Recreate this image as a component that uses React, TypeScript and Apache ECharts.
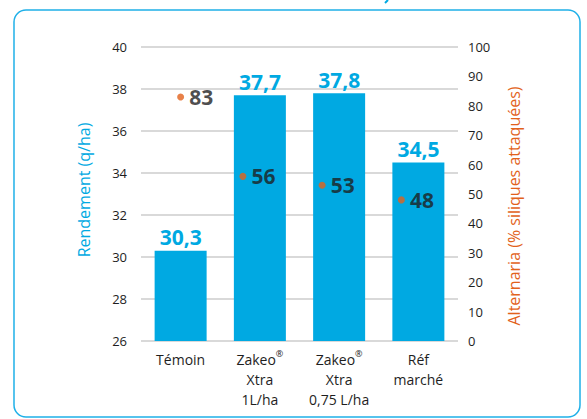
import React, { useEffect, useRef } from "react";
import * as echarts from "echarts";

const categories = ["Témoin", "Zakeo® Xtra 1L/ha", "Zakeo® Xtra 0,75 L/ha", "Réf marché"];
const rendement = [30.3, 37.7, 37.8, 34.5];
const alternaria = [83, 56, 53, 48];
const dotShift = [0, -17, -17, -17];

const BLUE = "#00A9E2";
const ORANGE = "#E2621B";
const DARK = "#1e1e1e";
const FONT = "'Open Sans', sans-serif";

const catLabel = (v: string) => {
  if (v.startsWith("Zakeo®")) {
    const rest = v.replace("Zakeo® Xtra ", "");
    return "{a|Zakeo}{sup|®}\n{a|Xtra}\n{a|" + rest + "}";
  }
  if (v === "Réf marché") return "{a|Réf}\n{a|marché}";
  return "{a|" + v + "}";
};

export default function App() {
  const ref = useRef<HTMLDivElement>(null);
  useEffect(() => {
    const chart = echarts.init(ref.current!, null, { renderer: "svg" });
    chart.setOption({
      animation: false,
      textStyle: { fontFamily: FONT },
      grid: { left: 141, right: 129, top: 47, bottom: 78 },
      graphic: [
        {
          type: "rect",
          shape: { x: 14, y: 10, width: 566, height: 407, r: 12 },
          style: { fill: "none", stroke: "#1FB0E8", lineWidth: 1.5 },
          silent: true,
        },
        {
          type: "line",
          shape: { x1: 388, y1: 0, x2: 385, y2: 3 },
          style: { stroke: BLUE, lineWidth: 2 },
          silent: true,
        },
      ],
      xAxis: {
        type: "category",
        data: categories,
        axisLine: { show: false },
        axisTick: { show: false },
        axisLabel: {
          margin: 8,
          interval: 0,
          formatter: catLabel,
          rich: {
            a: { fontSize: 14, color: DARK, lineHeight: 20, fontFamily: FONT },
            sup: { fontSize: 9, color: DARK, verticalAlign: "top", lineHeight: 20, padding: [0, 0, 8, 0], fontFamily: FONT },
          },
        },
      },
      yAxis: [
        {
          type: "value",
          min: 26,
          max: 40,
          interval: 2,
          name: "Rendement (q/ha)",
          nameLocation: "middle",
          nameRotate: 90,
          nameGap: 49,
          nameTextStyle: { color: BLUE, fontSize: 16, fontFamily: FONT, padding: [0, 0, 0, 8] },
          axisLine: { show: false },
          axisTick: { show: false },
          axisLabel: { color: DARK, fontSize: 13, margin: 14, fontFamily: FONT },
          splitLine: { lineStyle: { color: "#cccccc", width: 1.5 } },
        },
        {
          type: "value",
          min: 0,
          max: 100,
          interval: 10,
          position: "right",
          name: "Alternaria (% siliques attaquées)",
          nameLocation: "middle",
          nameRotate: 90,
          nameGap: 48,
          nameTextStyle: { color: ORANGE, fontSize: 16, fontFamily: FONT, padding: [0, 24, 0, 0] },
          axisLine: { show: false },
          axisTick: { show: false },
          axisLabel: { color: DARK, fontSize: 13, margin: 10, fontFamily: FONT },
          splitLine: { show: false },
        },
      ],
      series: [
        {
          type: "bar",
          yAxisIndex: 0,
          data: rendement,
          barWidth: 52,
          itemStyle: { color: BLUE },
          label: {
            show: true,
            position: "top",
            distance: 3,
            color: BLUE,
            fontSize: 21,
            fontWeight: "bold",
            fontFamily: FONT,
            formatter: (p: any) => String(p.value).replace(".", ","),
          },
        },
        {
          type: "scatter",
          yAxisIndex: 1,
          data: alternaria.map((v, i) => ({ value: v, symbolOffset: [dotShift[i], 0] })),
          symbolSize: 7,
          itemStyle: { color: ORANGE },
          label: {
            show: true,
            position: "right",
            distance: 5,
            color: DARK,
            fontSize: 21,
            fontWeight: "bold",
            fontFamily: FONT,
          },
        },
      ],
    });
    return () => chart.dispose();
  }, []);
  return (
    <div
      ref={ref}
      style={{ position: "absolute", left: 0, top: 0, width: 587, height: 419 }}
    />
  );
}
